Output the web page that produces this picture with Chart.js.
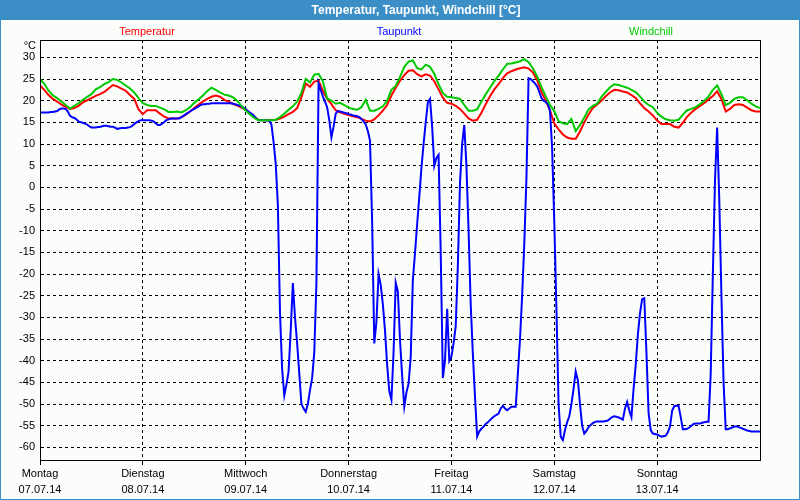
<!DOCTYPE html>
<html>
<head>
<meta charset="utf-8">
<script src="https://cdn.jsdelivr.net/npm/chart.js@4.4.1/dist/chart.umd.min.js"></script>
<style>
html,body{margin:0;padding:0;background:#fbfdfb;}
canvas{display:block;}
</style>
</head>
<body>
<canvas id="c" width="800" height="500"></canvas>
<script>
const chartTitle = 'Temperatur, Taupunkt, Windchill [°C]';
const unitLabel = '°C';
const seriesNames = ['Temperatur', 'Taupunkt', 'Windchill'];
const seriesColors = ['#ff0000', '#0000ff', '#00c800'];
const dayNames = ['Montag', 'Dienstag', 'Mittwoch', 'Donnerstag', 'Freitag', 'Samstag', 'Sonntag'];
const dayDates = ['07.07.14', '08.07.14', '09.07.14', '10.07.14', '11.07.14', '12.07.14', '13.07.14'];
const dayTickHours = [0, 24, 48, 72, 96, 120, 144];
const yTicks = [30, 25, 20, 15, 10, 5, 0, -5, -10, -15, -20, -25, -30, -35, -40, -45, -50, -55, -60];

// hourly values, hour 0 .. 168
const temperature = [
 23.5,22.5,21.3,20.4,19.8,19.1,18.6,18.1,18.3,18.8,
 19.6,20.1,20.6,21.1,21.5,22.0,22.8,23.6,23.3,22.8,
 22.3,21.3,20.4,18.0,16.9,17.8,17.8,17.8,17.0,16.3,
 15.9,15.9,15.9,16.2,16.8,17.5,18.3,19.1,19.8,20.4,
 20.9,21.2,20.9,20.2,19.8,19.3,18.9,18.4,17.9,17.1,
 16.2,15.6,15.5,15.5,15.5,15.6,15.9,16.3,16.9,17.4,
 18.3,20.8,24.0,23.2,24.4,24.6,22.3,20.4,19.2,17.8,
 17.3,17.0,16.7,16.4,16.2,15.8,15.4,15.2,15.7,16.6,
 17.7,19.0,21.2,23.0,24.6,25.9,26.9,27.0,26.1,25.6,
 26.1,25.8,24.5,22.6,20.7,19.5,19.3,18.8,18.1,17.0,
 15.9,15.4,15.6,17.2,19.2,21.0,22.6,23.8,25.2,26.3,
 26.8,27.2,27.5,27.7,27.4,26.5,24.8,22.0,20.0,17.8,
 14.7,13.4,12.2,11.5,11.2,11.2,12.9,15.0,16.8,18.3,
 19.1,20.0,21.0,21.9,22.5,22.4,22.1,21.9,21.3,20.6,
 19.4,18.3,17.5,16.6,15.4,14.6,14.6,14.6,14.0,13.8,
 14.9,16.3,17.3,18.1,18.8,19.5,20.3,21.1,22.2,20.4,
 17.5,18.1,19.0,19.2,19.0,18.4,17.8,17.5,17.5
];

const windchill = [
 25.0,23.9,22.3,21.2,20.6,19.8,19.0,18.2,18.8,19.4,
 20.2,20.9,21.5,22.6,23.1,23.8,24.3,25.0,24.8,24.2,
 23.5,22.8,21.9,20.6,19.4,19.0,18.8,18.8,18.4,18.0,
 17.4,17.4,17.5,17.3,17.8,18.5,19.5,20.3,21.2,22.2,
 23.0,22.5,21.9,21.4,21.2,20.8,20.0,18.8,17.7,16.8,
 16.0,15.5,15.5,15.5,15.5,15.6,16.2,17.0,17.9,18.7,
 19.8,21.8,25.0,24.2,26.0,26.2,24.5,20.5,20.0,19.3,
 19.5,19.0,18.4,18.1,17.9,18.5,20.2,17.7,17.7,18.1,
 18.7,20.0,22.5,23.4,25.5,27.8,29.0,29.3,27.5,27.2,
 28.3,27.8,26.2,23.8,21.8,20.9,20.8,20.6,20.4,19.0,
 17.7,17.7,18.0,19.8,21.5,23.0,24.5,25.8,27.2,28.5,
 28.6,28.8,29.1,29.6,28.9,27.5,25.6,23.2,21.0,19.0,
 17.6,15.3,14.8,14.6,15.8,13.0,14.4,16.1,18.0,18.8,
 19.3,20.9,22.0,23.1,23.8,23.6,23.3,23.0,22.5,22.0,
 21.0,19.8,19.0,18.5,17.2,16.3,15.7,15.5,15.4,15.6,
 16.8,17.8,18.1,18.5,19.2,20.0,21.0,22.5,23.5,21.5,
 19.0,19.5,20.4,20.8,20.8,20.1,19.3,18.7,18.3
];

// half-hourly values, hour 0 .. 168 in steps of 0.5
const dewpoint = [
 17.3,17.3,17.3,17.3,17.3,17.4,17.4,17.5,17.6,18.0,
 18.2,18.2,18.1,17.5,16.5,16.2,16.0,15.7,15.2,15.0,
 14.9,14.7,14.5,14.1,13.8,13.8,13.8,13.9,13.9,14.1,
 14.2,14.2,14.1,14.0,14.0,13.8,13.5,13.6,13.7,13.7,
 13.7,13.8,13.9,14.2,14.6,15.0,15.3,15.5,15.5,15.5,
 15.5,15.5,15.4,15.2,14.8,14.4,14.4,14.7,15.1,15.5,
 15.7,15.9,15.9,15.9,15.9,15.9,16.2,16.5,16.9,17.2,
 17.5,17.8,18.1,18.4,18.7,19.0,19.2,19.2,19.3,19.3,
 19.4,19.4,19.4,19.4,19.4,19.4,19.4,19.4,19.4,19.4,
 19.3,19.2,19.0,18.9,18.7,18.4,18.1,17.6,17.2,16.9,
 16.4,15.9,15.5,15.5,15.5,15.5,15.4,15.4,14.5,10.5,
 5.5,-4.0,-29.0,-42.0,-48.0,-45.5,-42.5,-33.0,-22.1,-30.0,
 -36.0,-43.0,-50.0,-51.0,-51.8,-50.0,-46.8,-44.0,-38.0,-22.0,
 24.0,22.5,21.0,19.8,18.5,15.5,11.5,14.0,17.0,17.6,
 17.5,17.4,17.2,17.1,16.9,16.8,16.6,16.5,16.4,16.2,
 15.8,15.2,14.5,13.0,10.8,-8.0,-36.0,-31.0,-20.0,-22.5,
 -27.0,-33.0,-41.0,-47.0,-49.0,-38.0,-22.0,-24.0,-35.2,-43.5,
 -50.6,-47.3,-45.3,-39.1,-21.4,-15.2,-8.5,-2.2,4.5,10.0,
 15.0,19.6,20.4,14.0,5.0,6.8,7.5,-15.0,-44.0,-40.0,
 -28.0,-40.0,-39.0,-36.0,-32.0,-18.0,1.0,10.0,14.4,5.0,
 -10.0,-27.0,-38.5,-48.3,-57.5,-56.3,-55.7,-55.2,-54.6,-54.2,
 -53.7,-53.2,-52.8,-52.5,-52.2,-51.0,-50.4,-51.0,-51.4,-51.0,
 -50.6,-50.6,-50.6,-43.0,-35.0,-25.0,-13.0,2.0,25.2,25.0,
 24.5,24.0,23.3,22.0,20.6,20.0,19.7,19.2,17.7,9.0,
 -8.0,-28.0,-50.0,-57.5,-58.3,-56.0,-54.2,-52.8,-50.0,-46.5,
 -42.5,-44.5,-50.0,-55.0,-56.8,-56.2,-55.3,-54.8,-54.4,-54.1,
 -54.0,-54.0,-54.0,-54.0,-53.9,-53.8,-53.4,-53.0,-52.8,-52.9,
 -53.1,-53.3,-53.6,-51.0,-49.5,-51.5,-53.0,-46.5,-41.0,-34.0,
 -29.0,-25.8,-25.6,-38.0,-52.0,-56.0,-56.8,-56.9,-57.0,-57.3,
 -57.5,-57.4,-57.3,-56.5,-55.2,-51.5,-50.5,-50.4,-50.4,-53.0,
 -55.8,-55.8,-55.7,-55.4,-55.0,-54.6,-54.5,-54.5,-54.5,-54.3,
 -54.2,-54.1,-54.1,-43.0,-20.0,1.7,13.8,-3.0,-25.0,-45.0,
 -55.8,-55.8,-55.6,-55.4,-55.2,-55.1,-55.3,-55.5,-55.7,-55.9,
 -56.1,-56.2,-56.3,-56.3,-56.3,-56.3,-56.3
];

const FONT = '"Liberation Sans", Arial, sans-serif';

const toPoints = (arr, step) => arr.map((v, i) => ({x: i * step, y: v}));

const framePlugin = {
  id: 'frame',
  beforeDraw(chart) {
    const {ctx, width, height, chartArea} = chart;
    ctx.save();
    ctx.fillStyle = '#3c8fc6';
    ctx.fillRect(0, 0, width, height);
    ctx.fillStyle = '#fbfdfb';
    ctx.fillRect(1, 20, width - 2, height - 21);
    ctx.fillStyle = '#ffffff';
    ctx.font = 'bold 12px ' + FONT;
    ctx.textAlign = 'center';
    ctx.textBaseline = 'middle';
    ctx.fillText(chartTitle, width / 2 + 16, 10.5);
    ctx.font = '11px ' + FONT;
    seriesNames.forEach((name, k) => {
      ctx.fillStyle = seriesColors[k];
      ctx.fillText(name, width / 2 - 1 + (k - 1) * 252, 32);
    });
    ctx.fillStyle = '#000';
    ctx.textAlign = 'right';
    ctx.fillText(unitLabel, chartArea.left - 4, 46);
    ctx.restore();
  },
  afterDraw(chart) {
    const {ctx, chartArea} = chart;
    ctx.save();
    ctx.strokeStyle = '#000';
    ctx.lineWidth = 1;
    ctx.strokeRect(Math.round(chartArea.left) + 0.5, Math.round(chartArea.top) + 0.5,
      Math.round(chartArea.right - chartArea.left), Math.round(chartArea.bottom - chartArea.top));
    ctx.restore();
  }
};

new Chart(document.getElementById('c'), {
  type: 'line',
  data: {
    datasets: [
      {label: seriesNames[0], data: toPoints(temperature, 1), borderColor: seriesColors[0], order: 3},
      {label: seriesNames[1], data: toPoints(dewpoint, 0.5), borderColor: seriesColors[1], order: 2},
      {label: seriesNames[2], data: toPoints(windchill, 1), borderColor: seriesColors[2], order: 1}
    ]
  },
  options: {
    responsive: false,
    animation: false,
    devicePixelRatio: 1,
    layout: {padding: {top: 40, right: 40, left: 0, bottom: 0}},
    plugins: {legend: {display: false}, title: {display: false}, tooltip: {enabled: false}},
    elements: {
      point: {radius: 0},
      line: {borderWidth: 2, tension: 0, fill: false}
    },
    scales: {
      x: {
        type: 'linear', min: 0, max: 168,
        afterBuildTicks: s => { s.ticks = dayTickHours.map(v => ({value: v})); },
        afterFit: s => { s.height = 40; },
        ticks: {
          autoSkip: false, maxRotation: 0, color: '#000', padding: 1,
          font: {family: FONT, size: 11, lineHeight: 1.45},
          callback: v => {
            const i = dayTickHours.indexOf(v);
            return i < 0 ? '' : [dayNames[i], dayDates[i]];
          }
        },
        grid: {color: '#000', lineWidth: 1, tickLength: 5, tickBorderDash: [], tickColor: '#000'},
        border: {display: true, color: '#000', width: 1, dash: [3, 3]}
      },
      y: {
        type: 'linear', min: -62.9, max: 34,
        afterBuildTicks: s => { s.ticks = yTicks.map(v => ({value: v})); },
        afterFit: s => { s.width = 40; },
        ticks: {color: '#000', padding: 5, font: {family: FONT, size: 11}},
        grid: {color: '#000', lineWidth: 1, drawTicks: false},
        border: {display: true, color: '#000', width: 1, dash: [3, 3]}
      }
    }
  },
  plugins: [framePlugin]
});
</script>
</body>
</html>
